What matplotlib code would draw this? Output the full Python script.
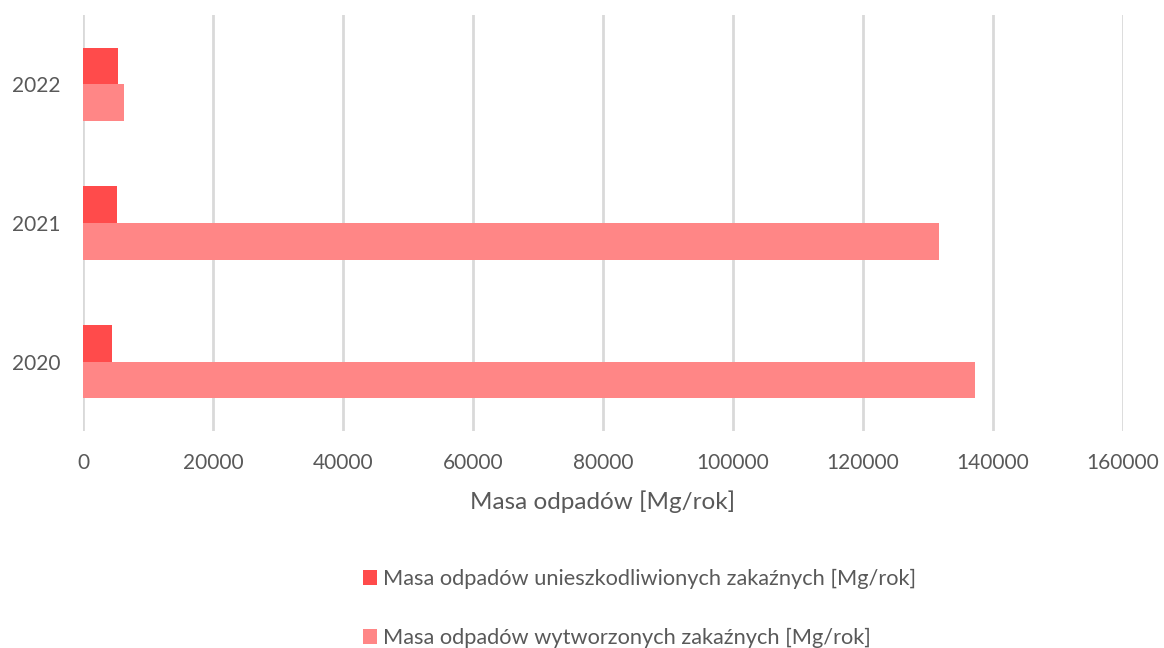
import matplotlib
matplotlib.use("Agg")
import matplotlib.pyplot as plt
import numpy as np

years = ["2020", "2021", "2022"]
unieszkodliwione = [4500, 5250, 5450]
wytworzone = [137300, 131750, 6250]
series_names = ["Masa odpadów unieszkodliwionych zakaźnych [Mg/rok]",
                "Masa odpadów wytworzonych zakaźnych [Mg/rok]"]
x_ticks = [0, 20000, 40000, 60000, 80000, 100000, 120000, 140000, 160000]
x_label = "Masa odpadów [Mg/rok]"

plt.rcParams['font.family'] = ['Lato', 'DejaVu Sans']
text_color = "#595959"
c_dark = "#FF4B4B"
c_light = "#FF8686"

fig = plt.figure(figsize=(11.64, 6.48), dpi=100)
ax = fig.add_axes([83/1164, 1-431/648, 1040/1164, 416/648])

y = np.arange(len(years))
h = 0.264
ax.barh(y + h/2, unieszkodliwione, height=h, color=c_dark, label=series_names[0], zorder=3)
ax.barh(y - h/2, wytworzone, height=h, color=c_light, label=series_names[1], zorder=3)

ax.set_xlim(0, 160000)
ax.set_ylim(-0.5, 2.5)
ax.set_xticks(x_ticks)
ax.set_xticklabels([str(t) for t in x_ticks])
ax.set_yticks(y)
ax.set_yticklabels(years)
ax.grid(axis='x', color='#d9d9d9', linewidth=2, zorder=0)
for s in ax.spines.values():
    s.set_visible(False)
ax.tick_params(axis='both', length=0, colors=text_color, labelsize=15)
ax.tick_params(axis='x', pad=16)
ax.tick_params(axis='y', pad=16)
ax.set_xlabel(x_label, fontsize=17.5, color=text_color, labelpad=12)

handles, labels = ax.get_legend_handles_labels()
leg = fig.legend(handles, labels, loc='upper left', bbox_to_anchor=(352/1164, 1-558/648),
                 frameon=False, fontsize=15.7, labelcolor=text_color, handlelength=0.65,
                 handleheight=0.65, handletextpad=0.25, labelspacing=1.8, borderpad=0)

fig.savefig("out.png", dpi=100, facecolor="white")
